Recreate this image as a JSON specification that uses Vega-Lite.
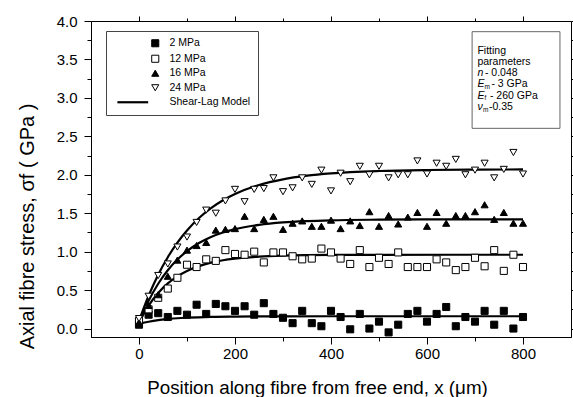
{
  "$schema": "https://vega.github.io/schema/vega-lite/v6.json",
  "width": 480,
  "height": 316,
  "autosize": {"type": "none"},
  "padding": {"left": 91, "top": 21, "right": 2, "bottom": 60},
  "background": "white",
  "config": {
    "view": {"stroke": "black", "strokeWidth": 1},
    "font": "Liberation Sans",
    "axis": {"grid": false, "domainColor": "black", "tickColor": "black", "labelColor": "black", "titleColor": "black", "labelFont": "Liberation Sans", "titleFont": "Liberation Sans", "titleFontWeight": "normal", "labelFontSize": 15, "titleFontSize": 18.8, "labelOverlap": false, "labelFlush": false},
    "legend": {"orient": "none", "legendX": 15, "legendY": 10, "strokeColor": "#444", "padding": 7, "symbolSize": 50, "symbolOffset": 37, "labelOffset": 9, "labelFontSize": 10.5, "labelFont": "Liberation Sans", "labelColor": "black", "rowPadding": 3.5, "fillColor": "white"}
  },
  "datasets": {
    "points": [
      {"s": "2 MPa", "x": 0, "y": 0.05}, {"s": "2 MPa", "x": 20, "y": 0.18}, {"s": "2 MPa", "x": 40, "y": 0.2}, {"s": "2 MPa", "x": 60, "y": 0.15}, {"s": "2 MPa", "x": 80, "y": 0.23}, {"s": "2 MPa", "x": 100, "y": 0.18}, {"s": "2 MPa", "x": 120, "y": 0.31}, {"s": "2 MPa", "x": 140, "y": 0.19}, {"s": "2 MPa", "x": 160, "y": 0.32}, {"s": "2 MPa", "x": 180, "y": 0.29}, {"s": "2 MPa", "x": 200, "y": 0.23}, {"s": "2 MPa", "x": 220, "y": 0.29}, {"s": "2 MPa", "x": 240, "y": 0.18}, {"s": "2 MPa", "x": 260, "y": 0.33}, {"s": "2 MPa", "x": 280, "y": 0.19}, {"s": "2 MPa", "x": 300, "y": 0.14}, {"s": "2 MPa", "x": 320, "y": 0.07}, {"s": "2 MPa", "x": 340, "y": 0.23}, {"s": "2 MPa", "x": 360, "y": 0.07}, {"s": "2 MPa", "x": 380, "y": 0.03}, {"s": "2 MPa", "x": 400, "y": 0.23}, {"s": "2 MPa", "x": 420, "y": 0.15}, {"s": "2 MPa", "x": 440, "y": -0.01}, {"s": "2 MPa", "x": 460, "y": 0.19}, {"s": "2 MPa", "x": 480, "y": 0.0}, {"s": "2 MPa", "x": 500, "y": 0.09}, {"s": "2 MPa", "x": 520, "y": -0.05}, {"s": "2 MPa", "x": 540, "y": 0.05}, {"s": "2 MPa", "x": 560, "y": 0.19}, {"s": "2 MPa", "x": 580, "y": 0.23}, {"s": "2 MPa", "x": 600, "y": 0.09}, {"s": "2 MPa", "x": 620, "y": 0.19}, {"s": "2 MPa", "x": 640, "y": 0.28}, {"s": "2 MPa", "x": 660, "y": 0.03}, {"s": "2 MPa", "x": 680, "y": 0.15}, {"s": "2 MPa", "x": 700, "y": 0.09}, {"s": "2 MPa", "x": 720, "y": 0.23}, {"s": "2 MPa", "x": 740, "y": 0.05}, {"s": "2 MPa", "x": 760, "y": 0.23}, {"s": "2 MPa", "x": 780, "y": 0.0}, {"s": "2 MPa", "x": 800, "y": 0.15},
      {"s": "12 MPa", "x": 0, "y": 0.1}, {"s": "12 MPa", "x": 20, "y": 0.25}, {"s": "12 MPa", "x": 40, "y": 0.4}, {"s": "12 MPa", "x": 60, "y": 0.52}, {"s": "12 MPa", "x": 80, "y": 0.66}, {"s": "12 MPa", "x": 100, "y": 0.83}, {"s": "12 MPa", "x": 120, "y": 0.8}, {"s": "12 MPa", "x": 140, "y": 0.9}, {"s": "12 MPa", "x": 160, "y": 0.88}, {"s": "12 MPa", "x": 180, "y": 1.02}, {"s": "12 MPa", "x": 200, "y": 0.97}, {"s": "12 MPa", "x": 220, "y": 0.96}, {"s": "12 MPa", "x": 240, "y": 1.0}, {"s": "12 MPa", "x": 260, "y": 0.86}, {"s": "12 MPa", "x": 280, "y": 0.99}, {"s": "12 MPa", "x": 300, "y": 0.99}, {"s": "12 MPa", "x": 320, "y": 0.94}, {"s": "12 MPa", "x": 340, "y": 0.9}, {"s": "12 MPa", "x": 360, "y": 0.91}, {"s": "12 MPa", "x": 380, "y": 1.04}, {"s": "12 MPa", "x": 400, "y": 0.99}, {"s": "12 MPa", "x": 420, "y": 0.91}, {"s": "12 MPa", "x": 440, "y": 0.84}, {"s": "12 MPa", "x": 460, "y": 1.02}, {"s": "12 MPa", "x": 480, "y": 0.8}, {"s": "12 MPa", "x": 500, "y": 0.92}, {"s": "12 MPa", "x": 520, "y": 0.84}, {"s": "12 MPa", "x": 540, "y": 0.99}, {"s": "12 MPa", "x": 560, "y": 0.8}, {"s": "12 MPa", "x": 580, "y": 0.8}, {"s": "12 MPa", "x": 600, "y": 0.8}, {"s": "12 MPa", "x": 620, "y": 0.9}, {"s": "12 MPa", "x": 640, "y": 0.86}, {"s": "12 MPa", "x": 660, "y": 0.76}, {"s": "12 MPa", "x": 680, "y": 0.8}, {"s": "12 MPa", "x": 700, "y": 0.92}, {"s": "12 MPa", "x": 720, "y": 0.81}, {"s": "12 MPa", "x": 740, "y": 1.02}, {"s": "12 MPa", "x": 760, "y": 0.75}, {"s": "12 MPa", "x": 780, "y": 0.96}, {"s": "12 MPa", "x": 800, "y": 0.8},
      {"s": "16 MPa", "x": 0, "y": 0.08}, {"s": "16 MPa", "x": 20, "y": 0.3}, {"s": "16 MPa", "x": 40, "y": 0.44}, {"s": "16 MPa", "x": 60, "y": 0.68}, {"s": "16 MPa", "x": 80, "y": 0.89}, {"s": "16 MPa", "x": 100, "y": 1.02}, {"s": "16 MPa", "x": 120, "y": 1.08}, {"s": "16 MPa", "x": 140, "y": 1.12}, {"s": "16 MPa", "x": 160, "y": 1.28}, {"s": "16 MPa", "x": 180, "y": 1.29}, {"s": "16 MPa", "x": 200, "y": 1.3}, {"s": "16 MPa", "x": 220, "y": 1.46}, {"s": "16 MPa", "x": 240, "y": 1.3}, {"s": "16 MPa", "x": 260, "y": 1.42}, {"s": "16 MPa", "x": 280, "y": 1.46}, {"s": "16 MPa", "x": 300, "y": 1.29}, {"s": "16 MPa", "x": 320, "y": 1.37}, {"s": "16 MPa", "x": 340, "y": 1.4}, {"s": "16 MPa", "x": 360, "y": 1.33}, {"s": "16 MPa", "x": 380, "y": 1.33}, {"s": "16 MPa", "x": 400, "y": 1.41}, {"s": "16 MPa", "x": 420, "y": 1.3}, {"s": "16 MPa", "x": 440, "y": 1.4}, {"s": "16 MPa", "x": 460, "y": 1.34}, {"s": "16 MPa", "x": 480, "y": 1.52}, {"s": "16 MPa", "x": 500, "y": 1.33}, {"s": "16 MPa", "x": 520, "y": 1.47}, {"s": "16 MPa", "x": 540, "y": 1.36}, {"s": "16 MPa", "x": 560, "y": 1.45}, {"s": "16 MPa", "x": 580, "y": 1.51}, {"s": "16 MPa", "x": 600, "y": 1.33}, {"s": "16 MPa", "x": 620, "y": 1.51}, {"s": "16 MPa", "x": 640, "y": 1.37}, {"s": "16 MPa", "x": 660, "y": 1.47}, {"s": "16 MPa", "x": 680, "y": 1.47}, {"s": "16 MPa", "x": 700, "y": 1.52}, {"s": "16 MPa", "x": 720, "y": 1.61}, {"s": "16 MPa", "x": 740, "y": 1.42}, {"s": "16 MPa", "x": 760, "y": 1.51}, {"s": "16 MPa", "x": 780, "y": 1.37}, {"s": "16 MPa", "x": 800, "y": 1.37},
      {"s": "24 MPa", "x": 0, "y": 0.13}, {"s": "24 MPa", "x": 20, "y": 0.42}, {"s": "24 MPa", "x": 40, "y": 0.69}, {"s": "24 MPa", "x": 60, "y": 0.84}, {"s": "24 MPa", "x": 80, "y": 1.06}, {"s": "24 MPa", "x": 100, "y": 1.19}, {"s": "24 MPa", "x": 120, "y": 1.38}, {"s": "24 MPa", "x": 140, "y": 1.54}, {"s": "24 MPa", "x": 160, "y": 1.5}, {"s": "24 MPa", "x": 180, "y": 1.66}, {"s": "24 MPa", "x": 200, "y": 1.81}, {"s": "24 MPa", "x": 220, "y": 1.65}, {"s": "24 MPa", "x": 240, "y": 1.81}, {"s": "24 MPa", "x": 260, "y": 1.82}, {"s": "24 MPa", "x": 280, "y": 1.96}, {"s": "24 MPa", "x": 300, "y": 1.78}, {"s": "24 MPa", "x": 320, "y": 1.83}, {"s": "24 MPa", "x": 340, "y": 1.96}, {"s": "24 MPa", "x": 360, "y": 1.875}, {"s": "24 MPa", "x": 380, "y": 2.06}, {"s": "24 MPa", "x": 400, "y": 1.79}, {"s": "24 MPa", "x": 420, "y": 2.02}, {"s": "24 MPa", "x": 440, "y": 1.91}, {"s": "24 MPa", "x": 460, "y": 2.11}, {"s": "24 MPa", "x": 480, "y": 2.0}, {"s": "24 MPa", "x": 500, "y": 2.11}, {"s": "24 MPa", "x": 520, "y": 1.96}, {"s": "24 MPa", "x": 540, "y": 2.0}, {"s": "24 MPa", "x": 560, "y": 2.0}, {"s": "24 MPa", "x": 580, "y": 2.18}, {"s": "24 MPa", "x": 600, "y": 2.01}, {"s": "24 MPa", "x": 620, "y": 2.15}, {"s": "24 MPa", "x": 640, "y": 2.11}, {"s": "24 MPa", "x": 660, "y": 2.2}, {"s": "24 MPa", "x": 680, "y": 2.0}, {"s": "24 MPa", "x": 700, "y": 2.06}, {"s": "24 MPa", "x": 720, "y": 2.15}, {"s": "24 MPa", "x": 740, "y": 1.96}, {"s": "24 MPa", "x": 760, "y": 2.07}, {"s": "24 MPa", "x": 780, "y": 2.29}, {"s": "24 MPa", "x": 800, "y": 2.01}
    ],
    "curves": [
      {"c": "2 MPa", "x": 0, "y": 0.06}, {"c": "2 MPa", "x": 20, "y": 0.088}, {"c": "2 MPa", "x": 40, "y": 0.109}, {"c": "2 MPa", "x": 60, "y": 0.123}, {"c": "2 MPa", "x": 80, "y": 0.134}, {"c": "2 MPa", "x": 100, "y": 0.141}, {"c": "2 MPa", "x": 150, "y": 0.152}, {"c": "2 MPa", "x": 200, "y": 0.156}, {"c": "2 MPa", "x": 300, "y": 0.159}, {"c": "2 MPa", "x": 400, "y": 0.16}, {"c": "2 MPa", "x": 600, "y": 0.16}, {"c": "2 MPa", "x": 800, "y": 0.16},
      {"c": "12 MPa", "x": 0, "y": 0.08}, {"c": "12 MPa", "x": 20, "y": 0.299}, {"c": "12 MPa", "x": 40, "y": 0.463}, {"c": "12 MPa", "x": 60, "y": 0.587}, {"c": "12 MPa", "x": 80, "y": 0.679}, {"c": "12 MPa", "x": 100, "y": 0.749}, {"c": "12 MPa", "x": 125, "y": 0.812}, {"c": "12 MPa", "x": 150, "y": 0.857}, {"c": "12 MPa", "x": 175, "y": 0.888}, {"c": "12 MPa", "x": 200, "y": 0.909}, {"c": "12 MPa", "x": 250, "y": 0.935}, {"c": "12 MPa", "x": 300, "y": 0.948}, {"c": "12 MPa", "x": 350, "y": 0.954}, {"c": "12 MPa", "x": 400, "y": 0.957}, {"c": "12 MPa", "x": 500, "y": 0.959}, {"c": "12 MPa", "x": 650, "y": 0.96}, {"c": "12 MPa", "x": 800, "y": 0.96},
      {"c": "16 MPa", "x": 0, "y": 0.08}, {"c": "16 MPa", "x": 20, "y": 0.361}, {"c": "16 MPa", "x": 40, "y": 0.583}, {"c": "16 MPa", "x": 60, "y": 0.758}, {"c": "16 MPa", "x": 80, "y": 0.897}, {"c": "16 MPa", "x": 100, "y": 1.007}, {"c": "16 MPa", "x": 125, "y": 1.112}, {"c": "16 MPa", "x": 150, "y": 1.191}, {"c": "16 MPa", "x": 175, "y": 1.249}, {"c": "16 MPa", "x": 200, "y": 1.293}, {"c": "16 MPa", "x": 250, "y": 1.349}, {"c": "16 MPa", "x": 300, "y": 1.381}, {"c": "16 MPa", "x": 350, "y": 1.398}, {"c": "16 MPa", "x": 400, "y": 1.408}, {"c": "16 MPa", "x": 500, "y": 1.416}, {"c": "16 MPa", "x": 600, "y": 1.419}, {"c": "16 MPa", "x": 700, "y": 1.42}, {"c": "16 MPa", "x": 800, "y": 1.42},
      {"c": "24 MPa", "x": 0, "y": 0.1}, {"c": "24 MPa", "x": 20, "y": 0.427}, {"c": "24 MPa", "x": 40, "y": 0.701}, {"c": "24 MPa", "x": 60, "y": 0.928}, {"c": "24 MPa", "x": 80, "y": 1.118}, {"c": "24 MPa", "x": 100, "y": 1.276}, {"c": "24 MPa", "x": 125, "y": 1.438}, {"c": "24 MPa", "x": 150, "y": 1.566}, {"c": "24 MPa", "x": 175, "y": 1.669}, {"c": "24 MPa", "x": 200, "y": 1.75}, {"c": "24 MPa", "x": 250, "y": 1.867}, {"c": "24 MPa", "x": 300, "y": 1.941}, {"c": "24 MPa", "x": 350, "y": 1.988}, {"c": "24 MPa", "x": 400, "y": 2.018}, {"c": "24 MPa", "x": 500, "y": 2.049}, {"c": "24 MPa", "x": 600, "y": 2.062}, {"c": "24 MPa", "x": 700, "y": 2.067}, {"c": "24 MPa", "x": 800, "y": 2.069}
    ]
  },
  "layer": [
    {
      "data": {"name": "curves"},
      "mark": {"type": "line", "color": "black", "strokeWidth": 2.2, "interpolate": "monotone"},
      "encoding": {
        "x": {"field": "x", "type": "quantitative", "scale": {"domain": [-100, 900], "nice": false, "zero": false},
          "axis": {"orient": "top", "labels": false, "title": null, "domain": false, "values": [0, 100, 200, 300, 400, 500, 600, 700, 800], "tickSize": {"condition": {"test": "datum.value % 200 != 0", "value": 3}, "value": 5}}},
        "y": {"field": "y", "type": "quantitative", "scale": {"domain": [-0.11, 4], "nice": false, "zero": false},
          "axis": {"orient": "right", "labels": false, "title": null, "domain": false, "values": [0, 0.25, 0.5, 0.75, 1, 1.25, 1.5, 1.75, 2, 2.25, 2.5, 2.75, 3, 3.25, 3.5, 3.75, 4], "tickSize": {"condition": {"test": "datum.value % 0.5 != 0", "value": 3}, "value": 5}}},
        "detail": {"field": "c", "type": "nominal"}
      }
    },
    {
      "data": {"name": "points"},
      "mark": {"type": "point", "size": 50, "opacity": 1, "strokeWidth": 1},
      "encoding": {
        "x": {"field": "x", "type": "quantitative", "scale": {"domain": [-100, 900], "nice": false, "zero": false},
          "axis": {"orient": "bottom", "title": "Position along fibre from free end, x (μm)", "values": [0, 100, 200, 300, 400, 500, 600, 700, 800], "labelExpr": "datum.value % 200 == 0 ? datum.label : ''", "tickSize": {"condition": {"test": "datum.value % 200 != 0", "value": 4}, "value": 7}, "labelPadding": 2, "titleX": 226, "titleY": 56, "titleBaseline": "alphabetic", "titleAlign": "center"}},
        "y": {"field": "y", "type": "quantitative", "scale": {"domain": [-0.11, 4], "nice": false, "zero": false},
          "axis": {"orient": "left", "title": "Axial fibre stress, σf ( GPa )", "titleFontSize": 20, "values": [0, 0.25, 0.5, 0.75, 1, 1.25, 1.5, 1.75, 2, 2.25, 2.5, 2.75, 3, 3.25, 3.5, 3.75, 4], "labelExpr": "datum.value % 0.5 == 0 ? format(datum.value, '.1f') : ''", "tickSize": {"condition": {"test": "datum.value % 0.5 != 0", "value": 4}, "value": 7}, "labelPadding": 7, "titleX": -64, "titleY": 205, "titleBaseline": "middle", "titleAlign": "center", "titleAngle": -90}},
        "shape": {"field": "s", "type": "nominal", "scale": {"domain": ["2 MPa", "12 MPa", "16 MPa", "24 MPa", "Shear-Lag Model"], "range": ["square", "square", "triangle-up", "triangle-down", "M-10.7,0L-2,0"]}, "legend": {"title": null}},
        "fill": {"field": "s", "type": "nominal", "scale": {"domain": ["2 MPa", "12 MPa", "16 MPa", "24 MPa", "Shear-Lag Model"], "range": ["black", "white", "black", "white", "transparent"]}, "legend": {"title": null}},
        "stroke": {"field": "s", "type": "nominal", "scale": {"domain": ["2 MPa", "12 MPa", "16 MPa", "24 MPa", "Shear-Lag Model"], "range": ["black", "black", "black", "black", "black"]}, "legend": {"title": null}},
        "strokeWidth": {"field": "s", "type": "nominal", "scale": {"type": "ordinal", "domain": ["2 MPa", "12 MPa", "16 MPa", "24 MPa", "Shear-Lag Model"], "range": [1, 1, 1, 1, 2.2]}, "legend": {"title": null}}
      }
    },
    {
      "data": {"values": [{}]},
      "mark": {"type": "rect", "fill": "white", "stroke": "#666", "strokeWidth": 1},
      "encoding": {
        "x": {"datum": 694, "type": "quantitative", "axis": null}, "x2": {"datum": 877},
        "y": {"datum": 3.861, "type": "quantitative", "axis": null}, "y2": {"datum": 2.604}
      }
    },
    {
      "data": {"values": [{}]},
      "mark": {"type": "text", "text": "Fitting", "align": "left", "baseline": "middle", "fontSize": 10.5, "color": "black", "font": "Liberation Sans"},
      "encoding": {"x": {"datum": 705, "type": "quantitative", "axis": null}, "y": {"datum": 3.614, "type": "quantitative", "axis": null}}
    },
    {
      "data": {"values": [{}]},
      "mark": {"type": "text", "text": "parameters", "align": "left", "baseline": "middle", "fontSize": 10.5, "color": "black", "font": "Liberation Sans", "dy": 11.6},
      "encoding": {"x": {"datum": 705, "type": "quantitative", "axis": null}, "y": {"datum": 3.614, "type": "quantitative", "axis": null}}
    },
    {
      "data": {"values": [{}]},
      "mark": {"type": "text", "text": "n", "align": "left", "baseline": "middle", "fontSize": 10.5, "fontStyle": "italic", "color": "black", "font": "Liberation Sans", "dy": 22.6},
      "encoding": {"x": {"datum": 705, "type": "quantitative", "axis": null}, "y": {"datum": 3.614, "type": "quantitative", "axis": null}}
    },
    {
      "data": {"values": [{}]},
      "mark": {"type": "text", "text": "- 0.048", "align": "left", "baseline": "middle", "fontSize": 10.5, "color": "black", "font": "Liberation Sans", "dx": 7.5, "dy": 22.6},
      "encoding": {"x": {"datum": 705, "type": "quantitative", "axis": null}, "y": {"datum": 3.614, "type": "quantitative", "axis": null}}
    },
    {
      "data": {"values": [{}]},
      "mark": {"type": "text", "text": "E", "align": "left", "baseline": "middle", "fontSize": 10.5, "fontStyle": "italic", "color": "black", "font": "Liberation Sans", "dy": 33.6},
      "encoding": {"x": {"datum": 705, "type": "quantitative", "axis": null}, "y": {"datum": 3.614, "type": "quantitative", "axis": null}}
    },
    {
      "data": {"values": [{}]},
      "mark": {"type": "text", "text": "m", "align": "left", "baseline": "middle", "fontSize": 6.5, "color": "black", "font": "Liberation Sans", "dx": 7, "dy": 36.3},
      "encoding": {"x": {"datum": 705, "type": "quantitative", "axis": null}, "y": {"datum": 3.614, "type": "quantitative", "axis": null}}
    },
    {
      "data": {"values": [{}]},
      "mark": {"type": "text", "text": "- 3 GPa", "align": "left", "baseline": "middle", "fontSize": 10.5, "color": "black", "font": "Liberation Sans", "dx": 14, "dy": 33.6},
      "encoding": {"x": {"datum": 705, "type": "quantitative", "axis": null}, "y": {"datum": 3.614, "type": "quantitative", "axis": null}}
    },
    {
      "data": {"values": [{}]},
      "mark": {"type": "text", "text": "E", "align": "left", "baseline": "middle", "fontSize": 10.5, "fontStyle": "italic", "color": "black", "font": "Liberation Sans", "dy": 45},
      "encoding": {"x": {"datum": 705, "type": "quantitative", "axis": null}, "y": {"datum": 3.614, "type": "quantitative", "axis": null}}
    },
    {
      "data": {"values": [{}]},
      "mark": {"type": "text", "text": "f", "align": "left", "baseline": "middle", "fontSize": 6.5, "color": "black", "font": "Liberation Sans", "dx": 7, "dy": 47.7},
      "encoding": {"x": {"datum": 705, "type": "quantitative", "axis": null}, "y": {"datum": 3.614, "type": "quantitative", "axis": null}}
    },
    {
      "data": {"values": [{}]},
      "mark": {"type": "text", "text": "- 260 GPa", "align": "left", "baseline": "middle", "fontSize": 10.5, "color": "black", "font": "Liberation Sans", "dx": 12.5, "dy": 45},
      "encoding": {"x": {"datum": 705, "type": "quantitative", "axis": null}, "y": {"datum": 3.614, "type": "quantitative", "axis": null}}
    },
    {
      "data": {"values": [{}]},
      "mark": {"type": "text", "text": "ν", "align": "left", "baseline": "middle", "fontSize": 10.5, "fontStyle": "italic", "color": "black", "font": "Liberation Sans", "dy": 56.6},
      "encoding": {"x": {"datum": 705, "type": "quantitative", "axis": null}, "y": {"datum": 3.614, "type": "quantitative", "axis": null}}
    },
    {
      "data": {"values": [{}]},
      "mark": {"type": "text", "text": "m", "align": "left", "baseline": "middle", "fontSize": 6.5, "color": "black", "font": "Liberation Sans", "dx": 5.5, "dy": 59.3},
      "encoding": {"x": {"datum": 705, "type": "quantitative", "axis": null}, "y": {"datum": 3.614, "type": "quantitative", "axis": null}}
    },
    {
      "data": {"values": [{}]},
      "mark": {"type": "text", "text": "-0.35", "align": "left", "baseline": "middle", "fontSize": 10.5, "color": "black", "font": "Liberation Sans", "dx": 11.5, "dy": 56.6},
      "encoding": {"x": {"datum": 705, "type": "quantitative", "axis": null}, "y": {"datum": 3.614, "type": "quantitative", "axis": null}}
    }
  ],
  "resolve": {"axis": {"x": "independent", "y": "independent"}}
}
